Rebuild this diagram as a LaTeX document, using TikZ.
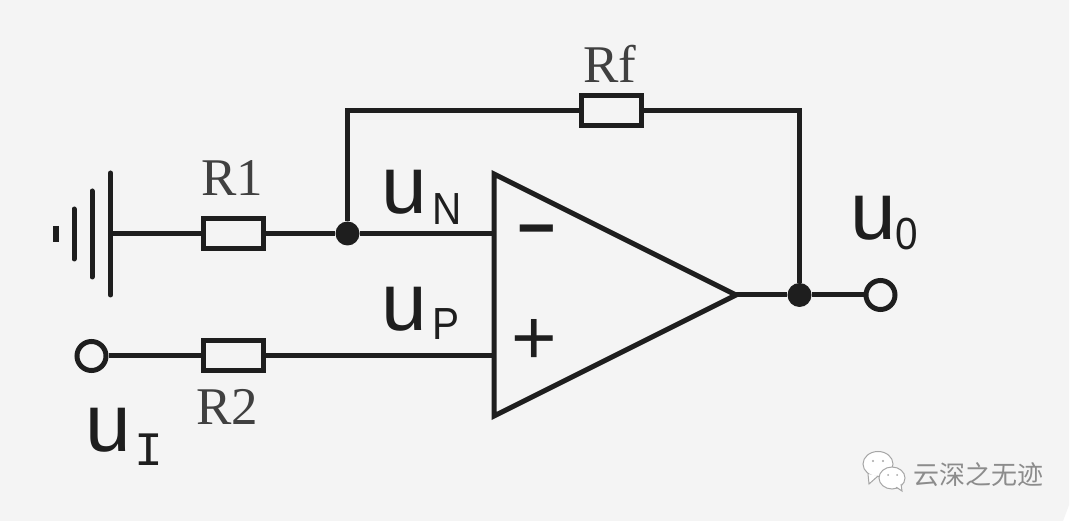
\documentclass[tikz,border=0pt]{standalone}
\usepackage{fontspec}
\setmainfont{Liberation Serif}
\setsansfont{Liberation Sans}
\setmonofont{Liberation Mono}
\newfontfamily\cjk{Noto Sans CJK SC}
\usetikzlibrary{calc, positioning}
\definecolor{paper}{HTML}{F4F4F4}
\definecolor{ink}{HTML}{1E1E1E}
\newcommand{\bigu}{\fontsize{82}{82}\sffamily\selectfont u}
\newcommand{\subsans}[1]{\fontsize{45}{45}\sffamily\selectfont #1}
\tikzset{
	wire/.style = {draw = ink, line width = 5pt},
	res/.style = {draw = ink, line width = 5pt, fill = paper, minimum width = 60pt, minimum height = 30pt, inner sep = 0pt},
	dot/.style = {circle, fill = ink, minimum size = 24pt, inner sep = 0pt},
	port/.style = {circle, draw = ink, line width = 5pt, fill = paper, minimum size = 29pt, inner sep = 0pt},
	reslabel/.style = {text = ink!85, inner sep = 0pt, font = \fontsize{53}{53}\selectfont},
	ulabel/.style = {text = ink, inner sep = 0pt, anchor = base west},
	sublabel/.style = {text = ink, inner sep = 0pt, anchor = base west, xscale = 0.9, transform shape},
	bubble/.style = {draw = black!35, line width = 1pt, fill = white}
}
\begin{document}
\begin{tikzpicture}[x = 1pt, y = -1pt]
	\useasboundingbox (0, 0) rectangle (1080, 521);
	\fill [white] (0, 0) rectangle (1080, 521);
	\fill [paper] (0, 0) -- (1069, 0) -- (1069, 505) -- (1063, 521) -- (0, 521) -- cycle;

	\node [res] (R1) at (233.5, 233.5) {};
	\node [res] (R2) at (233.5, 356) {};
	\node [res] (RF) at (611.5, 110.5) {};
	\node [dot] (N) at (347.5, 233.5) {};
	\node [dot] (OUT) at (799.5, 295) {};
	\node [port] (UI) at (91.5, 356) {};
	\node [port] (UO) at (880.5, 295) {};

	\coordinate (TL) at (494, 174);
	\coordinate (BL) at (494, 416);
	\coordinate (TIP) at (736, 295);
	\coordinate (GND) at (110.5, 233.5);
	\draw [wire, line join = miter] (TL) -- (BL) -- (TIP) -- cycle;

	\draw [wire] (GND) -- (R1);
	\draw [wire] (R1) -- (N);
	\draw [wire] (N) -- (N -| TL);
	\draw [wire] (UI) -- (R2);
	\draw [wire] (R2) -- (R2 -| TL);
	\draw [wire] (TIP) -- (OUT);
	\draw [wire] (OUT) -- (UO);
	\draw [wire] (N) |- (RF);
	\draw [wire] (RF) -| (OUT);

	\draw [wire, line cap = round] (110.5, 173) -- (110.5, 295);
	\draw [wire, line cap = round] (92, 191) -- (92, 277);
	\draw [wire, line cap = round] (74, 209) -- (74, 259);
	\draw [line width = 6pt, ink] (55.5, 226) -- (55.5, 242);

	\node [reslabel] (R1L) at (232, 178) {R1};
	\node [reslabel] (R2L) at (227, 407) {R2};
	\node [reslabel] (RFL) at (610, 64) {Rf};

	\node [ulabel] (UN) at (381, 214) {\bigu};
	\node [sublabel] (UNS) at (432, 225) {\subsans{N}};
	\node [ulabel] (UP) at (381, 331) {\bigu};
	\node [sublabel] (UPS) at (432, 340) {\subsans{P}};
	\node [ulabel] (UIL) at (85, 452) {\bigu};
	\node [ulabel, font = \fontsize{48}{48}\ttfamily\selectfont] (UIS) at (134, 466) {I};
	\node [ulabel] (UOL) at (850, 240) {\bigu};
	\node [sublabel] (UOS) at (895, 250) {\subsans{0}};

	\node [inner sep = 0pt, text = ink, font = \fontsize{66}{66}\bfseries\sffamily\selectfont] (MINUS) at (537, 238) {−};
	\node [inner sep = 0pt, text = ink, font = \fontsize{78}{78}\sffamily\selectfont] (PLUS) at (534.5, 342) {+};

	\draw [bubble] (878, 464) ellipse (15 and 12.5);
	\draw [bubble] (868, 474) -- (869, 484) -- (878, 476);
	\draw [bubble] (892, 478) ellipse (13 and 11);
	\draw [bubble] (896, 487) -- (902, 491) -- (901, 484);
	\fill [white] (890, 486) -- (900, 482) -- (899, 487) -- cycle;
	\fill [black!35] (873, 461) circle (1.2) (883, 461) circle (1.2) (888, 475) circle (1) (897, 475) circle (1);
	\node [inner sep = 0pt, text = black!45, font = \fontsize{26}{26}\cjk\selectfont] (MARK) at (978, 475) {云深之无迹};
\end{tikzpicture}
\end{document}
